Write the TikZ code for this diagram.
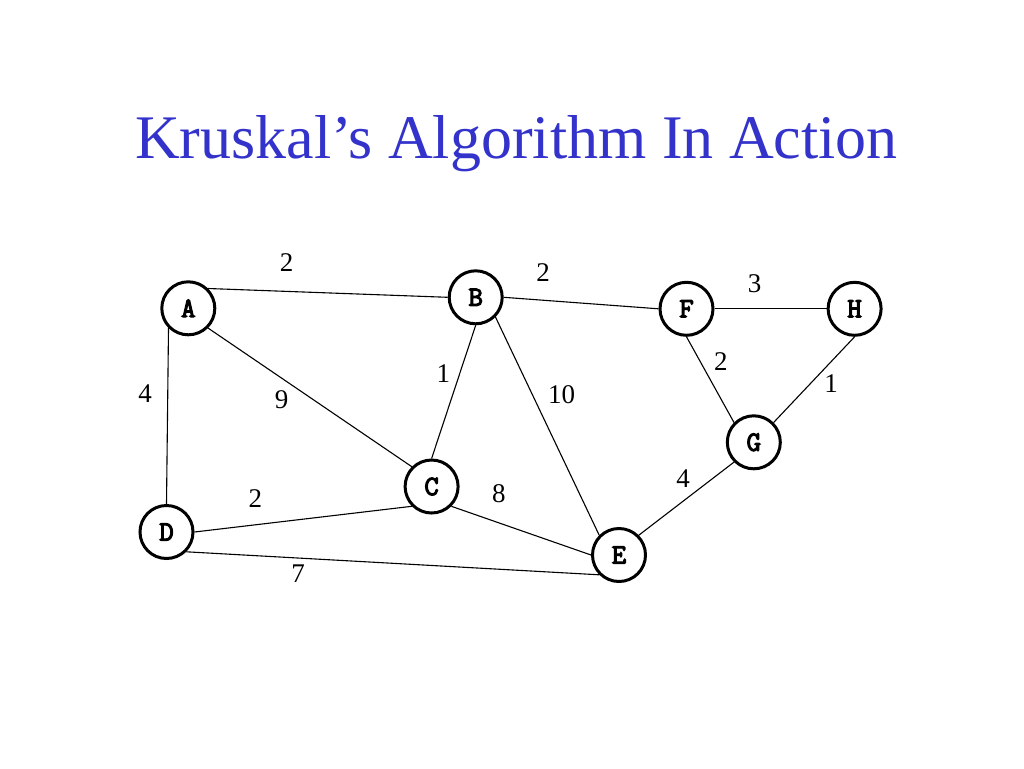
\documentclass[tikz,border=0pt]{standalone}
\usepackage{fontspec}
\setmainfont{Liberation Serif}
\newfontfamily\monob{Latin Modern Mono}[AutoFakeBold=4]
\definecolor{titleblue}{RGB}{51,51,204}
\begin{document}
\begin{tikzpicture}[x=1pt,y=-1pt,
  vert/.style={circle,draw,line width=3pt,minimum size=53pt,inner sep=0pt,fill=white,font=\monob\bfseries\fontsize{28}{28}\selectfont},
  wt/.style={font=\fontsize{27}{27}\selectfont,inner sep=0pt},
  edge/.style={line width=1.1pt}]
\useasboundingbox (0,0) rectangle (1024,768);
\fill[white] (0,0) rectangle (1024,768);
\node[anchor=base,text=titleblue,font=\fontsize{62}{62}\selectfont,inner sep=0pt] (title) at (516.5,158) {Kruskal’s Algorithm In Action};
\node[vert] (A) at (188.3,308.3) {A};
\node[vert] (B) at (475.7,297.3) {B};
\node[vert] (C) at (431.6,486.5) {C};
\node[vert] (D) at (166.5,532) {D};
\node[vert] (E) at (619,555) {E};
\node[vert] (F) at (686.5,308.8) {F};
\node[vert] (H) at (854.6,308.8) {H};
\node[vert] (G) at (753.8,442.3) {G};
\draw[edge] (A.45) -- (B.180);
\draw[edge] (A.-135) -- (D.90);
\draw[edge] (A.-45) -- (C.135);
\draw[edge] (B.-90) -- (C.90);
\draw[edge] (B.-45) -- (E.135);
\draw[edge] (B.0) -- (F.180);
\draw[edge] (F.0) -- (H.180);
\draw[edge] (F.-90) -- (G.135);
\draw[edge] (H.-90) -- (G.45);
\draw[edge] (G.-135) -- (E.45);
\draw[edge] (C.-135) -- (D.0);
\draw[edge] (C.-45) -- (E.180);
\draw[edge] (D.-45) -- (E.-135);
\node[wt] (wAB) at (286.7,262.7) {2};
\node[wt] (wAD) at (145,394) {4};
\node[wt] (wAC) at (281.7,399.3) {9};
\node[wt] (wBC) at (443.3,373.3) {1};
\node[wt] (wBF) at (543,272.9) {2};
\node[wt] (wFH) at (754.5,283.6) {3};
\node[wt] (wFG) at (720.8,362) {2};
\node[wt] (wHG) at (831,383.8) {1};
\node[wt] (wBE) at (561.5,394.5) {10};
\node[wt] (wGE) at (683,478.6) {4};
\node[wt] (wDC) at (255.3,498.5) {2};
\node[wt] (wCE) at (498.8,493.4) {8};
\node[wt] (wDE) at (298,573.6) {7};
\end{tikzpicture}
\end{document}
